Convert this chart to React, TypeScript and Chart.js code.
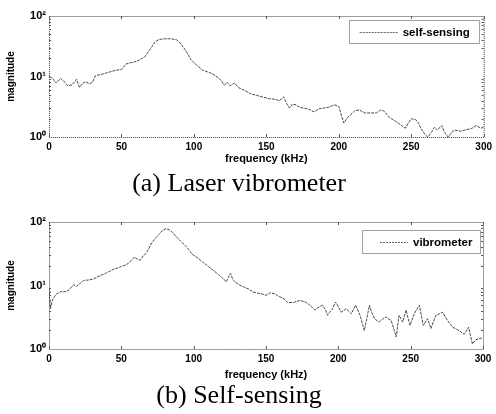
import React, { useEffect, useRef } from "react";
import { Chart, registerables } from "chart.js";

Chart.register(...registerables);

// ---- data ----
const xTickValues = [0, 50, 100, 150, 200, 250, 300];
const yTickValues = [1, 10, 100];
const yMinorValues = [2, 3, 4, 5, 6, 7, 8, 9, 20, 30, 40, 50, 60, 70, 80, 90];
const yTickLabels = ["10⁰", "10¹", "10²"];
const xTitle = "frequency (kHz)";
const yTitle = "magnitude";

const labelA = "self-sensing";
const captionA = "(a) Laser vibrometer";
const freqA = [
  0, 2, 5, 8, 11, 13, 16, 19, 21, 23, 25, 28, 30, 32, 36, 40, 44, 47, 50, 53, 56, 59, 62, 64, 66,
  68.5, 71, 73, 76, 80, 84, 88, 90, 93, 96, 98, 100, 102, 106, 110, 113, 117, 119, 121, 123, 125,
  128, 131, 135, 139, 143, 147, 152, 156, 159, 162, 164, 166, 168, 170.5, 173, 176, 179, 183, 186,
  189, 193, 197, 200, 202, 203.5, 206, 208, 211, 214, 218, 222, 226, 229, 231, 233, 235, 238, 241,
  244, 246, 248, 250, 253, 255, 257, 259.5, 261.5, 264, 266, 268, 271, 273, 275.5, 278, 280, 284,
  287, 290, 292, 295, 298, 300,
];
const magA = [
  10, 9.5, 7.8, 9.3, 8.0, 7.0, 7.3, 9.0, 6.6, 7.6, 8.2, 7.6, 8.0, 10.3, 10.8, 11.5, 12.3, 12.8, 13,
  16, 16.8, 17.4, 18.5, 19.8, 21, 25.5, 31, 37, 41, 42, 42, 40.5, 37, 30, 23, 19, 17, 15.4, 12.7,
  11.8, 11, 9.5, 8.5, 7.2, 8.0, 7.0, 7.8, 6.5, 5.9, 5.2, 4.9, 4.6, 4.3, 4.2, 4.0, 4.6, 3.6, 3.0,
  3.5, 3.4, 3.1, 3.0, 2.9, 2.6, 2.9, 3.0, 3.1, 3.4, 3.2, 2.2, 1.7, 2.1, 2.3, 2.7, 2.8, 2.5, 2.5,
  2.5, 2.8, 2.7, 2.4, 2.1, 1.9, 1.7, 1.5, 1.4, 1.7, 2.0, 1.95, 1.7, 1.35, 1.1, 1.0, 1.2, 1.45, 1.3,
  1.55, 1.2, 1.0, 1.2, 1.3, 1.25, 1.3, 1.35, 1.4, 1.55, 1.4, 1.45,
];

const labelB = "vibrometer";
const captionB = "(b) Self-sensing";
const freqB = [
  0, 1, 2, 3, 5, 8, 12, 14, 17, 19, 22, 24, 27, 30, 33, 35, 39, 42, 45, 48, 50, 53, 55, 57, 59, 61,
  63, 65, 67, 69, 71, 74, 76, 78, 80.5, 83, 85, 88, 91, 94, 97, 99, 103, 106, 109, 112, 114, 117,
  119, 121, 122.5, 124, 125.5, 127, 129, 132, 136, 138, 141, 145, 148, 150, 153, 156, 158, 161, 163,
  165, 169, 172, 174, 177, 179, 182, 184, 186, 189, 191, 192.5, 194, 196, 198, 200, 202, 205.5, 209,
  212, 215, 218, 220, 221.5, 223, 225, 228, 231, 233, 236.5, 238, 240, 242, 244.5, 246.8, 249.5,
  252.5, 256, 258.7, 261.7, 264, 267.4, 270, 272, 275.5, 279, 283.5, 287, 290, 292.7, 295, 299.5,
];
const magB = [
  9, 4.3, 5.5, 6.3, 7.3, 8.0, 8.0, 8.6, 10.3, 9.7, 11, 12, 12.2, 12.5, 13.5, 14.2, 15.5, 16.8, 18.2,
  19, 20, 21, 22.5, 25, 28, 26, 25, 29, 32, 38, 47, 57, 64, 72, 78, 76, 70, 59, 50, 43, 36, 31, 27,
  23.5, 21, 18.5, 17, 15, 13.7, 12.5, 11.4, 13.5, 15.5, 12.5, 11.2, 10.1, 9.2, 8.8, 7.9, 7.5, 7.3,
  7.0, 7.7, 7.4, 6.9, 6.4, 6.0, 5.4, 5.4, 5.7, 5.8, 5.5, 5.2, 4.5, 4.1, 4.5, 4.9, 4.2, 3.4, 3.8,
  4.3, 5.5, 4.6, 3.8, 4.3, 3.6, 4.9, 3.4, 1.95, 3.3, 4.9, 3.8, 3.0, 2.65, 3.0, 3.2, 2.8, 2.2, 1.55,
  3.4, 2.65, 4.1, 2.35, 3.6, 4.9, 2.35, 3.0, 2.1, 3.4, 3.6, 3.8, 2.8, 2.2, 1.95, 1.7, 2.2, 1.2, 1.4,
  1.5,
];

const SANS = "'Liberation Sans', Arial, sans-serif";

const boxLegendPlugin = {
  id: "boxLegend",
  afterDraw(chart: any, _args: any, opts: any) {
    const { ctx, chartArea: a, scales } = chart;
    ctx.save();
    ctx.strokeStyle = "#3a3a3a";
    ctx.lineWidth = 1;
    ctx.setLineDash([1, 1]);
    ctx.strokeRect(a.left + 0.5, a.top + 0.5, a.right - a.left, a.bottom - a.top);
    ctx.setLineDash([]);
    // inward tick marks
    ctx.strokeStyle = "#555";
    ctx.beginPath();
    scales.x.ticks.forEach((t: any) => {
      const px = Math.round(scales.x.getPixelForValue(t.value)) + 0.5;
      ctx.moveTo(px, a.bottom);
      ctx.lineTo(px, a.bottom - 3);
      ctx.moveTo(px, a.top);
      ctx.lineTo(px, a.top + 3);
    });
    yMinorValues.forEach((v) => {
      const py = Math.round(scales.y.getPixelForValue(v)) + 0.5;
      ctx.moveTo(a.left, py);
      ctx.lineTo(a.left + 2, py);
      ctx.moveTo(a.right, py);
      ctx.lineTo(a.right - 2, py);
    });
    ctx.stroke();
    // legend
    const ds = chart.data.datasets[0];
    const bx = a.right - opts.right - opts.width;
    const by = a.top + opts.top;
    ctx.setLineDash([1, 1]);
    ctx.strokeStyle = "#444";
    ctx.strokeRect(Math.round(bx) + 0.5, Math.round(by) + 0.5, opts.width, opts.height);
    const cy = Math.round(by + opts.height / 2) + 0.5;
    ctx.setLineDash([2, 1]);
    ctx.strokeStyle = "#666";
    ctx.beginPath();
    ctx.moveTo(bx + opts.lineStart, cy);
    ctx.lineTo(bx + opts.lineEnd, cy);
    ctx.stroke();
    ctx.setLineDash([]);
    ctx.fillStyle = "#000";
    ctx.font = `bold ${opts.fontSize}px ${SANS}`;
    ctx.textBaseline = "middle";
    ctx.textAlign = "left";
    ctx.fillText(ds.label, bx + opts.textStart, cy);
    ctx.restore();
  },
};

type Props = {
  freq: number[];
  mag: number[];
  label: string;
  top: number;
  height: number;
  padTop: number;
  padRight: number;
  xAxisH: number;
  xTitlePadBottom: number;
  legend: any;
};

function FreqChart(p: Props) {
  const ref = useRef<HTMLCanvasElement>(null);
  useEffect(() => {
    if (!ref.current) return;
    const chart = new Chart(ref.current, {
      type: "line",
      data: {
        datasets: [
          {
            label: p.label,
            data: p.freq.map((f, i) => ({ x: f, y: p.mag[i] })),
            borderColor: "#4a4a4a",
            borderWidth: 1,
            borderDash: [3, 1],
            pointRadius: 0,
            tension: 0,
            fill: false,
          },
        ],
      },
      options: {
        responsive: false,
        animation: false,
        layout: { padding: { top: p.padTop, right: p.padRight, left: 0, bottom: 0 } },
        plugins: {
          legend: { display: false },
          tooltip: { enabled: false },
          boxLegend: p.legend,
        } as any,
        scales: {
          x: {
            type: "linear",
            min: 0,
            max: 300,
            afterBuildTicks: (s: any) => {
              s.ticks = xTickValues.map((v) => ({ value: v }));
            },
            afterFit: (s: any) => {
              s.height = p.xAxisH;
            },
            grid: { display: false, drawTicks: false },
            border: { display: false },
            ticks: {
              color: "#000",
              padding: 4,
              maxRotation: 0,
              font: { family: SANS, size: 10, weight: "bold" },
            },
            title: {
              display: true,
              text: xTitle,
              color: "#000",
              font: { family: SANS, size: 11, weight: "bold" },
              padding: { top: 0, bottom: p.xTitlePadBottom },
            },
          },
          y: {
            type: "logarithmic",
            min: 1,
            max: 100,
            afterBuildTicks: (s: any) => {
              s.ticks = yTickValues.map((v) => ({ value: v }));
            },
            afterFit: (s: any) => {
              s.width = 49;
            },
            grid: { display: false, drawTicks: false },
            border: { display: false },
            ticks: {
              color: "#000",
              padding: 3,
              font: { family: SANS, size: 11, weight: "bold" },
              callback: (v: any) => {
                const i = yTickValues.indexOf(Number(v));
                return i >= 0 ? yTickLabels[i] : "";
              },
            },
            title: {
              display: true,
              text: yTitle,
              color: "#000",
              font: { family: SANS, size: 10, weight: "bold" },
              padding: { top: 5.5, bottom: 0 },
            },
          },
        },
      },
      plugins: [boxLegendPlugin],
    } as any);
    return () => chart.destroy();
  }, []);
  return (
    <canvas
      ref={ref}
      width={496}
      height={p.height}
      style={{ position: "absolute", left: 0, top: p.top, width: 496, height: p.height }}
    />
  );
}

const captionStyle: React.CSSProperties = {
  position: "absolute",
  left: 0,
  width: 478,
  textAlign: "center",
  fontFamily: "'Liberation Serif', 'Times New Roman', serif",
  fontSize: 26,
  lineHeight: "26px",
  color: "#000",
  whiteSpace: "nowrap",
};

export default function App() {
  return (
    <div
      style={{
        position: "fixed",
        left: 0,
        top: 0,
        width: 496,
        height: 414,
        background: "#fff",
        overflow: "hidden",
      }}
    >
      <FreqChart
        freq={freqA}
        mag={magA}
        label={labelA}
        top={0}
        height={170}
        padTop={16}
        padRight={11}
        xAxisH={33}
        xTitlePadBottom={4.5}
        legend={{ right: 5, top: 4, width: 130, height: 23, lineStart: 11, lineEnd: 50, textStart: 54, fontSize: 11.5 }}
      />
      <FreqChart
        freq={freqB}
        mag={magB}
        label={labelB}
        top={200}
        height={184}
        padTop={22}
        padRight={13}
        xAxisH={35}
        xTitlePadBottom={2.4}
        legend={{ right: 3, top: 8, width: 118, height: 23, lineStart: 18, lineEnd: 46, textStart: 51, fontSize: 11.5 }}
      />
      <div style={{ ...captionStyle, top: 170 }}>{captionA}</div>
      <div style={{ ...captionStyle, top: 382 }}>{captionB}</div>
    </div>
  );
}
